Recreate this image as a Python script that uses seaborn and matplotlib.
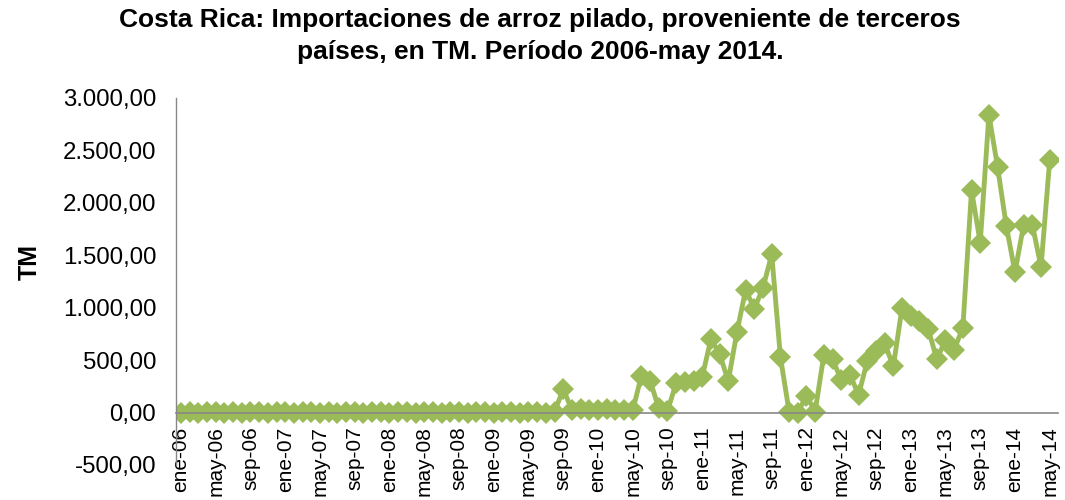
import matplotlib
matplotlib.use("Agg")
import matplotlib.pyplot as plt
from matplotlib.ticker import FuncFormatter, MultipleLocator
import seaborn as sns
import pandas as pd

# meses y años del eje x
meses = ["ene", "feb", "mar", "abr", "may", "jun", "jul", "ago", "sep", "oct", "nov", "dic"]
anios = ["06", "07", "08", "09", "10", "11", "12", "13", "14"]

# importaciones mensuales en TM (ene-06 .. may-14)
tm_2006 = [0, 3, 0, 5, 2, 0, 4, 0, 6, 2, 0, 3]
tm_2007 = [5, 0, 2, 4, 0, 3, 0, 6, 2, 0, 4, 3]
tm_2008 = [0, 5, 2, 0, 3, 6, 0, 2, 4, 0, 5, 3]
tm_2009 = [0, 2, 6, 0, 3, 4, 0, 5, 225, 25, 30, 20]
tm_2010 = [25, 30, 20, 25, 20, 350, 305, 40, 15, 280, 290, 300]
tm_2011 = [340, 700, 560, 300, 770, 1170, 990, 1190, 1510, 530, 10, 0]
tm_2012 = [160, 10, 550, 510, 310, 360, 170, 490, 590, 660, 440, 1000]
tm_2013 = [920, 870, 800, 510, 690, 600, 810, 2120, 1620, 2840, 2340, 1780]
tm_2014 = [1340, 1790, 1790, 1390, 2410]

valores = tm_2006 + tm_2007 + tm_2008 + tm_2009 + tm_2010 + tm_2011 + tm_2012 + tm_2013 + tm_2014
etiquetas = [f"{m}-{a}" for a in anios for m in meses][:len(valores)]

df = pd.DataFrame({"idx": range(len(valores)), "tm": valores})

sns.set_style("white")
plt.rcParams["font.family"] = ["Liberation Sans", "DejaVu Sans"]
plt.rcParams["text.color"] = "black"

fig = plt.figure(figsize=(10.65, 5), dpi=100)
ax = fig.add_axes([0.165, 0.07, 0.828, 0.734])

verde = "#9BBB59"
sns.lineplot(data=df, x="idx", y="tm", ax=ax, color=verde, linewidth=3.5,
             marker="D", markersize=11.5, markeredgewidth=0, markerfacecolor=verde)

# ejes: la línea horizontal cruza en 0
for s in ["top", "right"]:
    ax.spines[s].set_visible(False)
ax.spines["bottom"].set_position(("data", 0))
ax.spines["bottom"].set_color("#878787")
ax.spines["left"].set_color("#878787")
ax.spines["bottom"].set_linewidth(1.2)
ax.spines["left"].set_linewidth(1.0)

ax.set_xlim(-0.6, 100.9)
ax.set_ylim(-500, 3000)
ax.yaxis.set_major_locator(MultipleLocator(500))
ax.yaxis.set_major_formatter(FuncFormatter(
    lambda v, p: f"{v:,.2f}".replace(",", "X").replace(".", ",").replace("X", ".")))

ax.set_xticks(range(0, len(valores), 4))
ax.set_xticklabels(etiquetas[::4])

ax.tick_params(axis="x", length=0, pad=10, labelsize=15, colors="black", labelrotation=90)
ax.tick_params(axis="y", length=0, pad=14, labelsize=17.3, colors="black")

ax.set_xlabel("")
ax.set_ylabel("TM", fontsize=18, fontweight="bold", color="black")
ax.yaxis.set_label_coords(-0.152, 0.553)

fig.suptitle("Costa Rica: Importaciones de arroz pilado, proveniente de terceros\n"
             "países, en TM. Período 2006-may 2014.",
             x=0.507, y=0.983, fontsize=19, fontweight="bold", linespacing=1.4, color="black")

fig.savefig("out.png", dpi=100)
